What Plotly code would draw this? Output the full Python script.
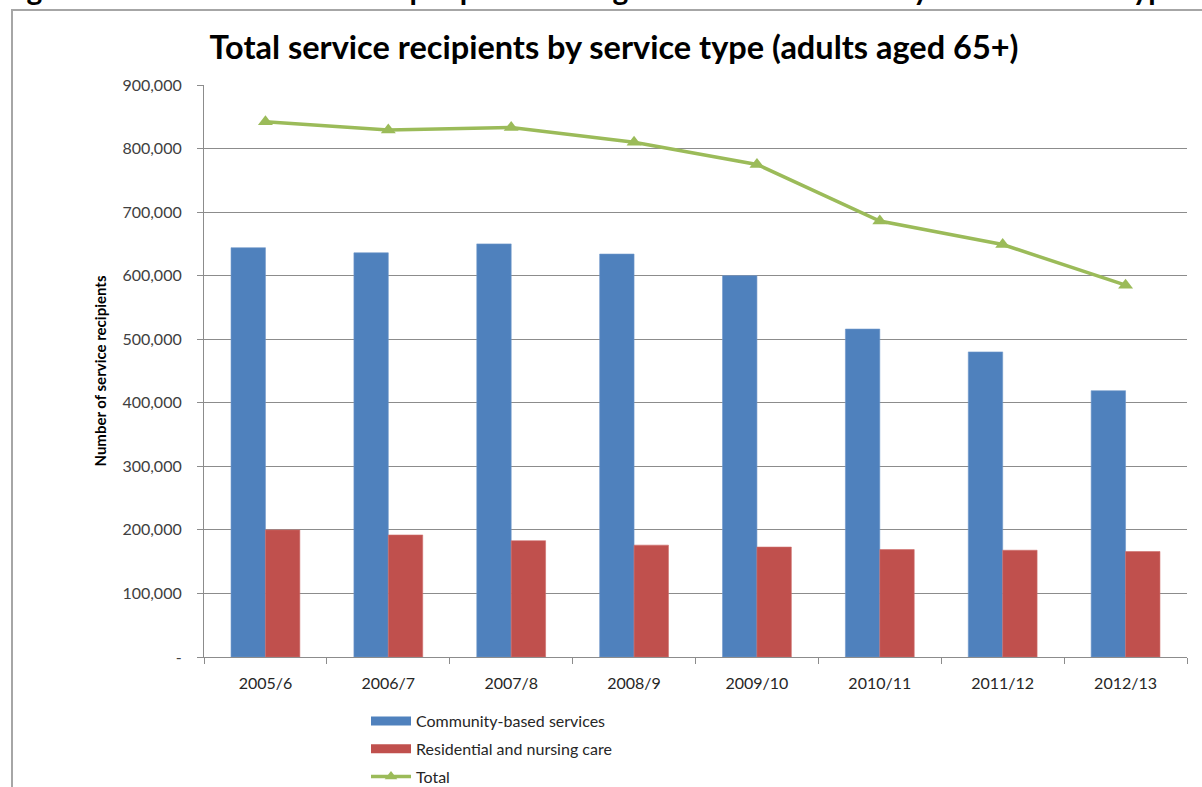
import plotly.graph_objects as go

# Financial years
years = ["2005/6", "2006/7", "2007/8", "2008/9", "2009/10", "2010/11", "2011/12", "2012/13"]

# Service recipients, adults aged 65+
community = [644000, 636000, 650000, 634000, 600000, 516000, 480000, 419000]
residential = [200000, 192000, 183000, 176000, 173000, 169000, 168000, 166000]
total = [842000, 829000, 833000, 810000, 775000, 686000, 649000, 585000]

# Y axis ticks (zero shown as a dash, accounting style)
y_tickvals = [0, 100000, 200000, 300000, 400000, 500000, 600000, 700000, 800000, 900000]
y_ticktext = ["-", "100,000", "200,000", "300,000", "400,000", "500,000",
              "600,000", "700,000", "800,000", "900,000"]

BLUE = "#4f81bd"
RED = "#c0504d"
GREEN = "#9bbb59"
FONT = "Lato, 'Open Sans', sans-serif"

fig = go.Figure()

fig.add_trace(go.Bar(x=years, y=community, name="Community-based services",
                     marker=dict(color=BLUE, line=dict(color="#6f97c9", width=0.6)),
                     showlegend=False))
fig.add_trace(go.Bar(x=years, y=residential, name="Residential and nursing care",
                     marker=dict(color=RED, line=dict(color="#cf6f6c", width=0.6)),
                     showlegend=False))
fig.add_trace(go.Scatter(x=years, y=total, name="Total", mode="lines+markers",
                         line=dict(color=GREEN, width=3.5),
                         marker=dict(symbol="triangle-up", size=13, color=GREEN),
                         showlegend=False))

# Legend entries with wide, flat swatches
fig.add_trace(go.Scatter(x=[None], y=[None], mode="lines", name="Community-based services",
                         line=dict(color=BLUE, width=9), legendgroup="a"))
fig.add_trace(go.Scatter(x=[None], y=[None], mode="lines", name="Residential and nursing care",
                         line=dict(color=RED, width=9), legendgroup="b"))
fig.add_trace(go.Scatter(x=[None], y=[None], mode="lines+markers", name="Total",
                         line=dict(color=GREEN, width=3.5),
                         marker=dict(symbol="triangle-up", size=11, color=GREEN),
                         legendgroup="c"))

L, R, T, B = 204, 15, 85, 130
W, H = 1202, 787
pw, ph = W - L - R, H - T - B


def px_x(x):
    return (x - L) / pw


def px_y(y):
    return (H - B - y) / ph


# Chart frame (right and bottom edges run past the page)
fig.add_shape(type="rect", xref="paper", yref="paper",
              x0=px_x(12), x1=px_x(1240), y0=px_y(820), y1=px_y(10),
              line=dict(color="#a6a6a6", width=2), fillcolor="rgba(0,0,0,0)", layer="below")

# Document caption above the chart frame
fig.add_annotation(xref="paper", yref="paper", x=px_x(0), y=px_y(-12),
                   xanchor="left", yanchor="middle", showarrow=False,
                   text="<b>Figure 2 Total number of older people receiving social care services by broad service type</b>",
                   font=dict(family=FONT, size=30, color="#000000"))

fig.update_layout(
    width=W, height=H,
    margin=dict(l=L, r=R, t=T, b=B, autoexpand=False),
    paper_bgcolor="white", plot_bgcolor="white",
    barmode="group", bargap=0.44, bargroupgap=0,
    font=dict(family=FONT, color="#404040"),
    title=dict(text="<b>Total service recipients by service type (adults aged 65+)</b>",
               xref="container", x=614 / W, xanchor="center",
               yref="container", y=1 - 48 / H, yanchor="middle",
               font=dict(family=FONT, size=32.5, color="#000000")),
    legend=dict(orientation="v", x=px_x(366), y=px_y(704), xanchor="left", yanchor="top",
                traceorder="grouped", tracegroupgap=4, itemwidth=40,
                font=dict(family=FONT, size=16, color="#262626"),
                bgcolor="rgba(0,0,0,0)"),
    xaxis=dict(showline=True, linecolor="#8c8c8c", linewidth=1.2,
               ticks="outside", tickson="boundaries", ticklen=6, tickcolor="#8c8c8c",
               ticklabelstandoff=12,
               tickfont=dict(family=FONT, size=16, color="#262626"),
               showgrid=False),
    yaxis=dict(range=[0, 900000], tickvals=y_tickvals, ticktext=y_ticktext,
               showline=True, linecolor="#8c8c8c", linewidth=1.2,
               ticks="outside", ticklen=6, tickcolor="#8c8c8c",
               ticklabelstandoff=12,
               tickfont=dict(family=FONT, size=16, color="#404040"),
               showgrid=True, gridcolor="#8c8c8c", gridwidth=1, zeroline=False,
               title=dict(text="<b>Number of service recipients</b>", standoff=12,
                          font=dict(family=FONT, size=15, color="#000000"))),
)

fig.write_html("out.html")
